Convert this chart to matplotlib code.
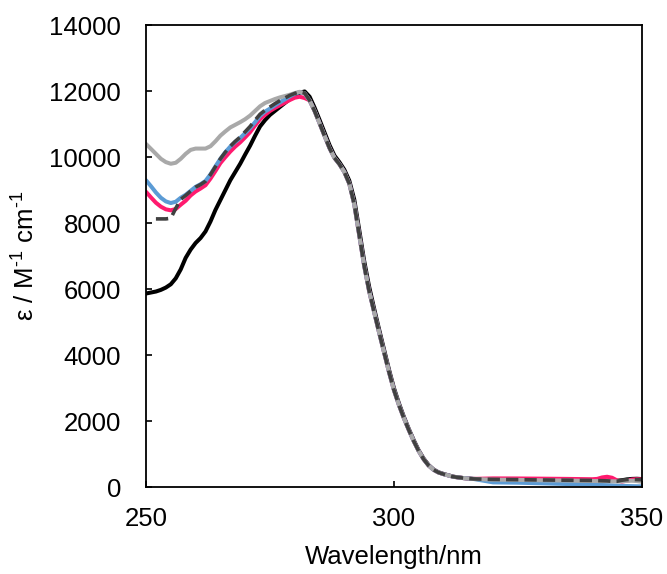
import numpy as np
import matplotlib
matplotlib.use("Agg")
import matplotlib.pyplot as plt

plt.rcParams['font.family'] = ['Liberation Sans', 'DejaVu Sans']
plt.rcParams['mathtext.default'] = 'regular'

# ---- data (wavelength / nm, epsilon / M^-1 cm^-1) ----
# rising part, differs per series
wl_head = [250, 251, 252, 253, 254, 255, 256, 257, 258, 259, 260, 261, 262,
           263, 264, 265, 266, 267, 268, 269, 270, 271, 272, 273, 274, 275,
           276, 277, 278, 279, 280, 281, 282]
eps_black_head = [5870, 5900, 5930, 5980, 6050, 6150, 6330, 6600, 6950, 7200,
                  7400, 7550, 7750, 8050, 8400, 8700, 9000, 9300, 9550, 9800,
                  10080, 10350, 10650, 10930, 11120, 11280, 11400, 11520,
                  11640, 11760, 11880, 11950, 11990]
eps_gray_head = [10400, 10250, 10100, 9950, 9850, 9800, 9830, 9950, 10100,
                 10220, 10260, 10260, 10260, 10330, 10480, 10650, 10780,
                 10900, 10980, 11060, 11150, 11260, 11400, 11540, 11640,
                 11700, 11760, 11810, 11850, 11890, 11940, 11980, 11930]
eps_blue_head = [9300, 9120, 8930, 8770, 8660, 8610, 8650, 8770, 8860, 8980,
                 9100, 9180, 9280, 9480, 9720, 9950, 10150, 10320, 10460,
                 10580, 10730, 10880, 11060, 11250, 11380, 11470, 11570,
                 11660, 11750, 11840, 11920, 11970, 11930]
eps_pink_head = [8950, 8780, 8620, 8500, 8420, 8390, 8430, 8560, 8680, 8840,
                 8960, 9050, 9150, 9350, 9580, 9820, 10000, 10170, 10320,
                 10450, 10600, 10760, 10960, 11150, 11280, 11400, 11490,
                 11570, 11650, 11730, 11800, 11830, 11790]
wl_dash_head = [252, 253, 254, 255, 256, 257, 258, 259, 260, 261, 262, 263,
                264, 265, 266, 267, 268, 269, 270, 271, 272, 273, 274, 275,
                276, 277, 278, 279, 280, 281, 282]
eps_dash_head = [8130, 8130, 8130, 8150, 8450, 8720, 8840, 8970, 9090, 9170,
                 9270, 9470, 9710, 9950, 10150, 10330, 10480, 10610, 10770,
                 10930, 11120, 11300, 11420, 11520, 11620, 11710, 11790,
                 11870, 11930, 11980, 11940]

# falling part, practically shared by all spectra
wl_mid = [283, 284, 285, 286, 287, 288, 289, 290, 291, 292, 293, 294, 295,
          296, 297, 298, 299, 300, 301, 302, 303, 304, 305, 306, 307, 308,
          309, 310, 312, 314, 316]
eps_mid = [11720, 11400, 11030, 10650, 10280, 9980, 9790, 9550, 9200, 8580,
           7650, 6720, 5950, 5320, 4700, 4100, 3500, 2950, 2500, 2100, 1740,
           1400, 1100, 850, 660, 530, 450, 400, 320, 280, 255]
eps_black_mid = [11830, 11500, 11130, 10750, 10370, 10050, 9850, 9620, 9290,
                 8720, 7800, 6860, 6080, 5420, 4790, 4180, 3570, 3010, 2550,
                 2140, 1770, 1430, 1120, 870, 675, 540, 455, 405, 322, 281,
                 255]

# long-wavelength tails
wl_tail = [320, 325, 330, 335, 340, 341, 342, 343, 344, 345, 346, 347, 348,
           349, 350]
eps_black_tail = [235, 228, 220, 215, 210, 208, 205, 200, 198, 200, 215, 240,
                  255, 260, 250]
eps_gray_tail = [232, 225, 212, 205, 192, 190, 188, 186, 184, 180, 185, 195,
                 200, 190, 170]
eps_blue_tail = [150, 140, 120, 100, 80, 75, 70, 65, 58, 50, 45, 40, 36, 32,
                 30]
eps_pink_tail = [270, 268, 262, 255, 245, 255, 300, 320, 290, 210, 175, 200,
                 235, 250, 240]
eps_dash_tail = [240, 232, 222, 215, 208, 205, 200, 195, 182, 185, 215, 235,
                 240, 235, 230]

series = [
    ("black", wl_head, eps_black_head, eps_black_mid, eps_black_tail, "solid"),
    ("#FF1A6E", wl_head, eps_pink_head, eps_mid, eps_pink_tail, "solid"),
    ("#5B9BD5", wl_head, eps_blue_head, eps_mid, eps_blue_tail, "solid"),
    ("#A9A9A9", wl_head, eps_gray_head, eps_mid, eps_gray_tail, "solid"),
    ("#404040", wl_dash_head, eps_dash_head, eps_mid, eps_dash_tail, "dashed"),
]

fig = plt.figure(figsize=(6.67, 5.74), dpi=100)
ax = fig.add_axes([0.2189, 0.151, 0.7433, 0.8053])

for color, wh, eh, em, et, style in series:
    x = list(wh) + wl_mid + wl_tail
    y = list(eh) + list(em) + list(et)
    if style == "dashed":
        line, = ax.plot(x, y, color=color, lw=2.6)
        line.set_dashes((3.4, 1.7))
        line.set_dash_capstyle('butt')
    else:
        ax.plot(x, y, color=color, lw=2.9, solid_joinstyle='round',
                solid_capstyle='round')

ax.set_xlim(250, 350)
ax.set_ylim(0, 14000)
ax.set_xticks([250, 300, 350])
ax.set_yticks(np.arange(0, 14001, 2000))

for s in ax.spines.values():
    s.set_linewidth(1.3)
    s.set_color('black')

ax.tick_params(axis='both', direction='in', length=4, width=1.2,
               labelsize=18.5)
ax.tick_params(axis='y', pad=18)
ax.tick_params(axis='x', pad=14)

ax.set_xlabel('Wavelength/nm', fontsize=18.5, labelpad=10)
ax.set_ylabel('ε / M$^{\u20101}$ cm$^{\u20101}$', fontsize=18.5)
ax.yaxis.set_label_coords(-0.214, 0.5)

fig.savefig('out.png', dpi=100)
